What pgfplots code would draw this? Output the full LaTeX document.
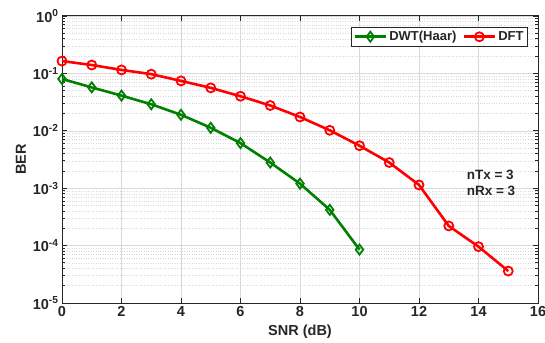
\documentclass[border=0pt]{standalone}
\usepackage{pgfplots}
\pgfplotsset{compat=1.18}
\usepackage{fontspec}
\setmainfont{Liberation Sans}
\definecolor{axgray}{RGB}{38,38,38}
\definecolor{mgreen}{RGB}{0,128,0}
\begin{document}
\begin{tikzpicture}
\useasboundingbox (-62pt,-39pt) rectangle (483pt,303pt);
\begin{axis}[
  scale only axis,
  width=476pt, height=287pt,
  ymode=log,
  xmin=0, xmax=16, ymin=1e-5, ymax=1,
  xtick={0,2,...,16},
  ytick={1e-5,1e-4,1e-3,1e-2,1e-1,1},
  yticklabels={10\textsuperscript{-5},10\textsuperscript{-4},10\textsuperscript{-3},10\textsuperscript{-2},10\textsuperscript{-1},10\textsuperscript{0}},
  /pgf/number format/assume math mode=true,
  tick label style={font=\fontsize{14.5}{16}\selectfont\bfseries, text=axgray},
  label style={font=\fontsize{14.5}{16}\selectfont\bfseries, text=axgray},
  xlabel={SNR (dB)}, ylabel={BER},
  xlabel style={yshift=-1pt},
  ylabel style={yshift=0pt},
  axis line style={axgray, line width=1pt},
  tick style={axgray, line width=0.8pt},
  tick align=inside,
  major tick length=5pt, minor tick length=3pt,
  grid=both,
  xminorgrids=false,
  major grid style={gray!30, line width=0.6pt},
  minor grid style={gray!30, dotted, line width=0.5pt},
  legend style={at={(0.979,0.962)}, anchor=north east, legend columns=2,
    draw=axgray, line width=0.8pt, font=\fontsize{13}{15}\selectfont\bfseries, text=axgray,
    inner sep=2pt, /tikz/every even column/.append style={column sep=4pt}},
  legend image code/.code={
    \draw[#1] (0cm,0cm) -- (1.1cm,0cm);
    \draw[#1, mark repeat=1] plot coordinates {(0.55cm,0cm)};
  },
  clip=false,
]
\addplot[mgreen, line width=2.6pt, mark=diamond, mark size=5pt, mark options={solid, line width=1.8pt}] coordinates {
(0,0.080) (1,0.057) (2,0.041) (3,0.029) (4,0.019) (5,0.0113) (6,0.0061) (7,0.0028) (8,0.0012) (9,0.00042) (10,0.000085)
};
\addlegendentry{DWT(Haar)}
\addplot[red, line width=2.6pt, mark=o, mark size=4.5pt, mark options={solid, line width=1.8pt}] coordinates {
(0,0.164) (1,0.140) (2,0.115) (3,0.097) (4,0.074) (5,0.056) (6,0.040) (7,0.0276) (8,0.0174) (9,0.0102) (10,0.0055) (11,0.0028) (12,0.00114) (13,0.00022) (14,0.000096) (15,0.000036)
};
\addlegendentry{DFT}
\node[anchor=center, font=\fontsize{13.5}{15}\selectfont\bfseries, text=axgray, align=left] at (axis cs:14.42,0.00126) {nTx = 3\\[1pt]nRx = 3};
\end{axis}
\end{tikzpicture}
\end{document}
